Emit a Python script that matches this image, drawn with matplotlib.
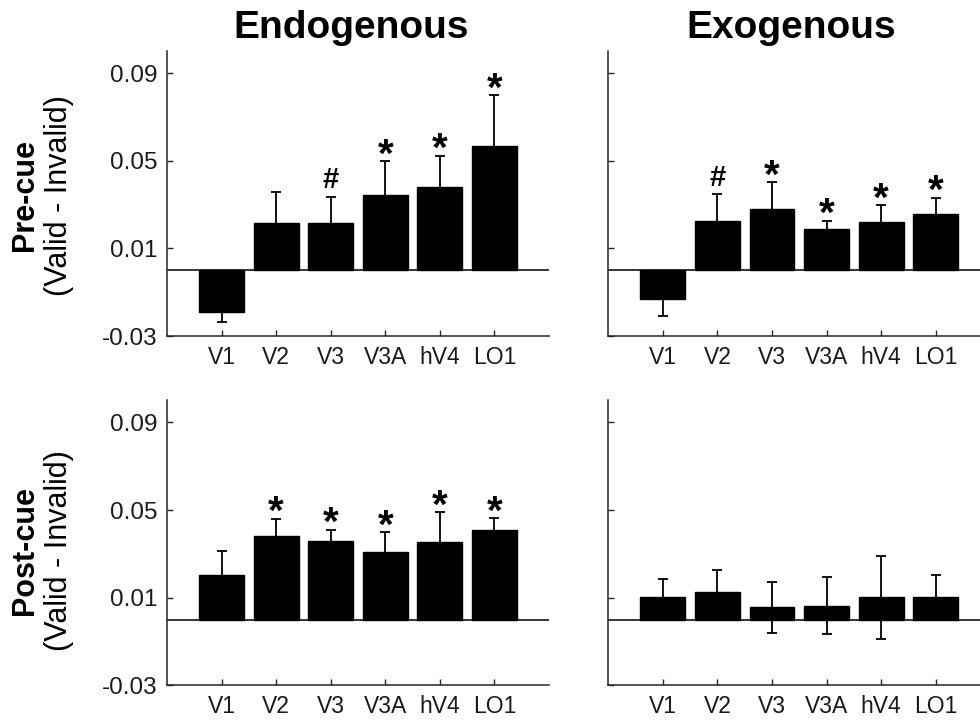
import matplotlib
matplotlib.use("Agg")
import matplotlib.pyplot as plt

plt.rcParams["font.family"] = ["Liberation Sans", "DejaVu Sans"]

areas = ["V1", "V2", "V3", "V3A", "hV4", "LO1"]
yticks = [-0.03, 0.01, 0.05, 0.09]

# pre-cue: valid - invalid
endo_pre = [-0.0191, 0.0214, 0.0215, 0.0344, 0.0379, 0.0568]
endo_pre_err = [0.0044, 0.0145, 0.0121, 0.0153, 0.0144, 0.0232]
endo_pre_sig = ["", "", "#", "*", "*", "*"]

exo_pre = [-0.0130, 0.0226, 0.0280, 0.0189, 0.0220, 0.0258]
exo_pre_err = [0.0079, 0.0122, 0.0123, 0.0038, 0.0078, 0.0074]
exo_pre_sig = ["", "#", "*", "*", "*", "*"]

# post-cue: valid - invalid
endo_post = [0.0203, 0.0383, 0.0360, 0.0308, 0.0353, 0.0411]
endo_post_err = [0.0112, 0.0078, 0.0051, 0.0090, 0.0137, 0.0052]
endo_post_sig = ["", "*", "*", "*", "*", "*"]

exo_post = [0.0104, 0.0128, 0.0056, 0.0064, 0.0102, 0.0102]
exo_post_err = [0.0079, 0.0099, 0.0117, 0.0129, 0.0190, 0.0101]
exo_post_sig = ["", "", "", "", "", ""]

AXCOL = "#262626"


def panel(ax, vals, errs, sig, show_labels):
    x = list(range(1, len(vals) + 1))
    ax.axhline(0, color="black", lw=1.1, zorder=1)
    ax.bar(x, vals, width=0.82, color="black", edgecolor="black", zorder=2)
    ax.errorbar(x, vals, yerr=errs, fmt="none", ecolor="black",
                elinewidth=1.3, capsize=3.5, capthick=1.3, zorder=3)
    for xi, v, e, s in zip(x, vals, errs, sig):
        if not s:
            continue
        top = max(v + e, 0)
        if s == "*":
            ax.annotate(s, (xi, top), xytext=(0, -4), textcoords="offset points",
                        ha="center", va="baseline", fontsize=29, fontweight="bold")
        else:
            ax.annotate(s, (xi, top), xytext=(0, 6), textcoords="offset points",
                        ha="center", va="baseline", fontsize=21, fontweight="bold")
    ax.set_xlim(0, 7)
    ax.set_ylim(-0.03, 0.1003)
    ax.set_xticks(x)
    ax.set_xticklabels(areas)
    ax.set_yticks(yticks)
    if show_labels:
        ax.set_yticklabels([f"{t:.2f}" for t in yticks])
    else:
        ax.set_yticklabels([])
    for side in ["top", "right"]:
        ax.spines[side].set_visible(False)
    for side in ["left", "bottom"]:
        ax.spines[side].set_color(AXCOL)
        ax.spines[side].set_linewidth(1.1)
    ax.tick_params(direction="in", length=4, width=1, color=AXCOL,
                   labelsize=16.5, labelcolor="#1a1a1a")
    ax.tick_params(axis="y", pad=7, labelsize=17.5)
    ax.tick_params(axis="x", pad=7)


fig = plt.figure(figsize=(9.8, 7.2), dpi=100)
w, h = 0.3898, 0.3965
ax_tl = fig.add_axes([0.1704, 0.5333, w, h])
ax_tr = fig.add_axes([0.6207, 0.5333, w, h])
ax_bl = fig.add_axes([0.1704, 0.0482, w, h])
ax_br = fig.add_axes([0.6207, 0.0482, w, h])

panel(ax_tl, endo_pre, endo_pre_err, endo_pre_sig, True)
panel(ax_tr, exo_pre, exo_pre_err, exo_pre_sig, False)
panel(ax_bl, endo_post, endo_post_err, endo_post_sig, True)
panel(ax_br, exo_post, exo_post_err, exo_post_sig, False)

fig.text(0.358, 0.947, "Endogenous", ha="center", va="baseline",
         fontsize=28, fontweight="bold")
fig.text(0.807, 0.947, "Exogenous", ha="center", va="baseline",
         fontsize=28, fontweight="bold")

for yc, name in [(0.729, "Pre-cue"), (0.236, "Post-cue")]:
    fig.text(0.026, yc, name, rotation=90, ha="center", va="center",
             fontsize=22, fontweight="bold")
    fig.text(0.060, yc, "(Valid - Invalid)", rotation=90, ha="center",
             va="center", fontsize=22)

fig.savefig("out.png", dpi=100)
